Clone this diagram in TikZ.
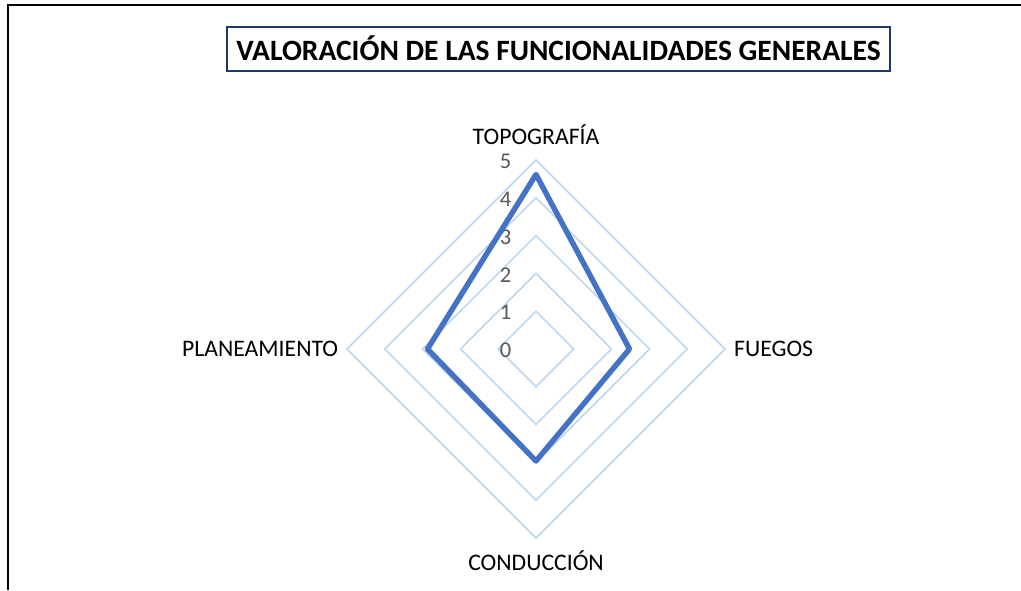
\documentclass[tikz,border=0pt]{standalone}
\usepackage{fontspec}
\setmainfont{Carlito}
\usetikzlibrary{calc}
\definecolor{gridc}{HTML}{BDD7EE}
\definecolor{datac}{HTML}{4472C4}
\definecolor{numc}{HTML}{595959}
\definecolor{titlec}{HTML}{203864}
\tikzset{
  gridline/.style={draw=gridc, line width=1.6pt},
  dataline/.style={draw=datac, line width=5.4pt, line join=round},
  axislabel/.style={font=\fontsize{23.7}{27}\selectfont, text=black, inner sep=0pt},
  numlabel/.style={font=\fontsize{22.5}{26}\selectfont, text=numc, inner sep=0pt},
  titlebox/.style={draw=titlec, line width=1.8pt, minimum width=663pt, minimum height=44pt, inner sep=0pt, font=\bfseries\fontsize{29.5}{33}\selectfont}
}
\begin{document}
\begin{tikzpicture}[x=1pt,y=-1pt]
\useasboundingbox (0,0) rectangle (1021,590);
\fill[white] (0,0) rectangle (1021,590);
% frame
\draw[line width=1.6pt, black] (8,590) -- (8,5) -- (1021,5);
% title
\node[titlebox] (title) at (558.5,48.7) {VALORACIÓN DE LAS FUNCIONALIDADES GENERALES};
% grid
\coordinate (c) at (536,349);
\foreach \k in {1,...,5} {
  \draw[gridline] ($(c)+(0,-37.8*\k)$) -- ($(c)+(37.8*\k,0)$) -- ($(c)+(0,37.8*\k)$) -- ($(c)+(-37.8*\k,0)$) -- cycle;
}
% numbers
\foreach \k in {0,...,5} {
  \node[numlabel] (n\k) at (505.5,{350.5-37.8*\k}) {\k};
}
% data
\coordinate (dt) at (536,174.5);
\coordinate (dr) at (629.5,349);
\coordinate (db) at (536,461);
\coordinate (dl) at (427.5,349);
\draw[dataline] (dt) -- (dr) -- (db) -- (dl) -- cycle;
% axis labels
\node[axislabel, anchor=base] (top) at (536,144.3) {TOPOGRAFÍA};
\node[axislabel, anchor=base east] (left) at (338.3,356) {PLANEAMIENTO};
\node[axislabel, anchor=base west] (right) at (734,356) {FUEGOS};
\node[axislabel, anchor=base] (bot) at (536,570) {CONDUCCIÓN};
\end{tikzpicture}
\end{document}
